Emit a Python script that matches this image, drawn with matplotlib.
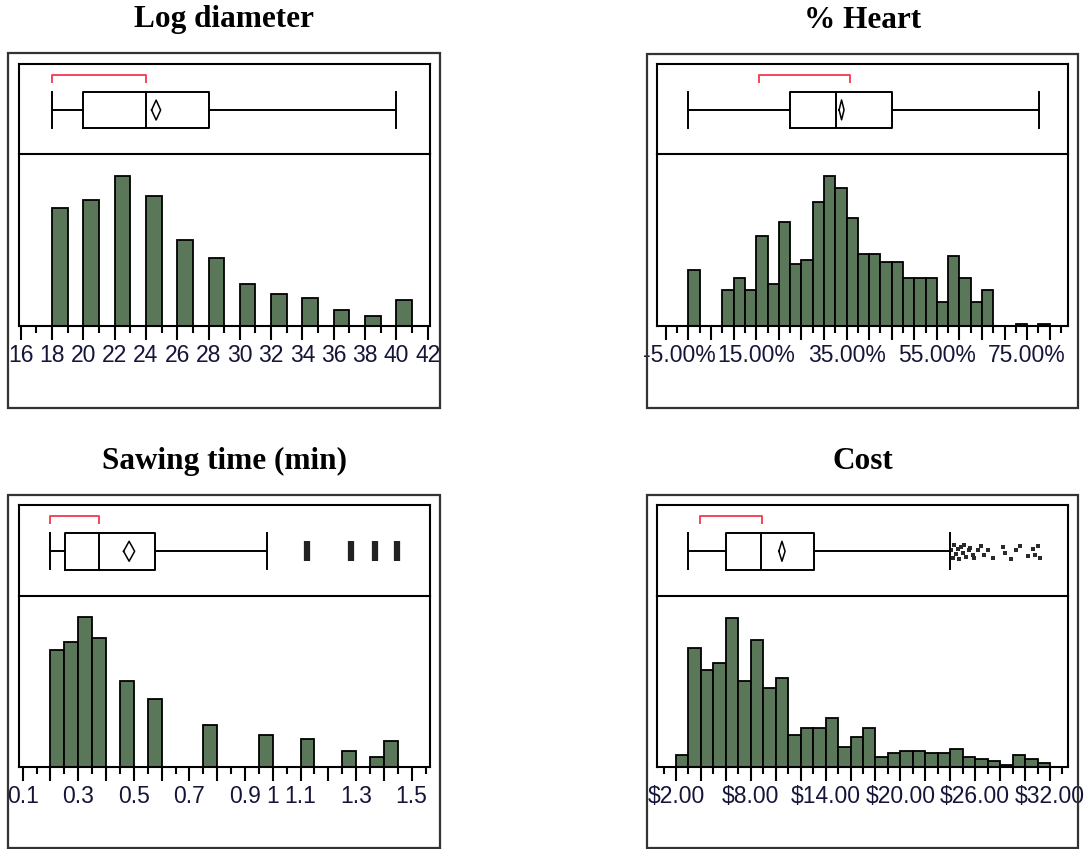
'''Module Imports'''
import matplotlib.pyplot as plt
from matplotlib.patches import Rectangle
from matplotlib.transforms import ScaledTranslation

'''Data read off the reference (bar heights in relative units)'''
# Log diameter
diam_left = [18, 20, 22, 24, 26, 28, 30, 32, 34, 36, 38, 40]
diam_height = [35.3, 37.7, 45.0, 39.0, 25.8, 20.3, 12.5, 9.5, 8.3, 4.7, 2.9, 7.7]
diam_box = [18, 20, 24, 28, 40]  # whisker lo, q1, median, q3, whisker hi
diam_mean = [24.65, 0.29]  # mean, half width of diamond
diam_short = [18, 24]  # shortest half bracket
diam_out = []
diam_major = list(range(16, 43, 2))
diam_minor = list(range(17, 42, 2))
diam_labels = [str(t) for t in diam_major]

# % Heart
heart_left = [0, 7.5, 10, 12.5, 15, 17.5, 20, 22.5, 25, 27.5, 30, 32.5, 35, 37.5,
              40, 42.5, 45, 47.5, 50, 52.5, 55, 57.5, 60, 62.5, 65, 72.5, 77.5]
heart_height = [16.8, 10.8, 14.4, 10.8, 27.0, 12.6, 31.2, 18.5, 19.8, 37.2, 45.0, 41.4,
                32.3, 21.5, 21.5, 19.1, 19.1, 14.4, 14.4, 14.4, 7.2, 21.0, 14.4, 7.2,
                10.8, 0.5, 0.5]
heart_box = [0, 22.5, 32.6, 45, 77.7]
heart_mean = [33.9, 0.55]
heart_short = [15.7, 35.7]
heart_out = []
heart_major = [-5, 0, 5, 10, 15, 20, 25, 30, 35, 40, 45, 50, 55, 60, 65, 70, 75, 80]
heart_minor = [-2.5, 2.5, 7.5, 12.5, 17.5, 22.5, 27.5, 32.5, 37.5, 42.5, 47.5, 52.5,
               57.5, 62.5, 67.5, 72.5, 77.5, 82.5]
heart_labels = ['%.2f%%' % t if t in (-5, 15, 35, 55, 75) else '' for t in heart_major]

# Sawing time (min)
saw_left = [0.2, 0.25, 0.3, 0.35, 0.45, 0.55, 0.75, 0.95, 1.1, 1.25, 1.35, 1.4]
saw_height = [35.2, 37.6, 45.0, 38.8, 25.7, 20.3, 12.5, 9.4, 8.2, 4.6, 2.8, 7.6]
saw_box = [0.2, 0.252, 0.376, 0.576, 0.98]
saw_mean = [0.483, 0.02]
saw_short = [0.2, 0.376]
saw_out = [1.124, 1.28, 1.368, 1.446]
saw_major = [0.1, 0.2, 0.3, 0.4, 0.5, 0.6, 0.7, 0.8, 0.9, 1.0, 1.1, 1.2, 1.3, 1.4, 1.5]
saw_minor = [0.15, 0.25, 0.35, 0.45, 0.55, 0.65, 0.75, 0.85, 0.95, 1.05, 1.15, 1.25,
             1.35, 1.45, 1.55]
saw_text = {0.1: '0.1', 0.3: '0.3', 0.5: '0.5', 0.7: '0.7', 0.9: '0.9', 1.0: '1',
            1.1: '1.1', 1.3: '1.3', 1.5: '1.5'}
saw_labels = [saw_text.get(round(t, 2), '') for t in saw_major]

# Cost
cost_left = list(range(2, 32))
cost_height = [3.4, 35.8, 29.2, 31.1, 44.9, 25.7, 38.2, 23.8, 26.7, 9.4, 11.8, 11.8,
               14.8, 5.8, 8.8, 11.8, 2.8, 4.0, 4.6, 4.6, 4.0, 4.0, 5.2, 2.8, 2.2, 1.6,
               0.4, 3.4, 2.2, 1.0]
cost_box = [3.0, 6.0, 8.8, 13.1, 24.0]
cost_mean = [10.5, 0.25]
cost_short = [3.9, 8.9]
cost_out = [24.1, 24.2, 24.3, 24.5, 24.6, 24.7, 24.9, 25.0, 25.1, 25.3, 25.5, 25.6,
            25.8, 25.9, 26.2, 26.5, 26.7, 27.0, 27.4, 28.2, 28.4, 28.9, 29.3, 29.6,
            30.2, 30.6, 30.8, 31.0, 31.2]
cost_out_y = [0.50, 0.42, 0.56, 0.46, 0.52, 0.40, 0.54, 0.47, 0.56, 0.43, 0.50, 0.53,
              0.45, 0.42, 0.50, 0.55, 0.45, 0.50, 0.42, 0.54, 0.47, 0.40, 0.50, 0.55,
              0.44, 0.52, 0.45, 0.55, 0.42]
cost_major = list(range(2, 33, 2))
cost_minor = list(range(1, 34, 2))
cost_labels = ['$%.2f' % t if t in (2, 8, 14, 20, 26, 32) else '' for t in cost_major]

'''Styling'''
W, H = 1088, 849
bar_color = '#5b775a'
red = '#f5455a'
tick_color = '#15153a'

fig = plt.figure(figsize=(W / 100, H / 100), dpi=100)


def rect(l, t, r, b):  # pixel box -> figure fraction [left, bottom, width, height]
    return [l / W, 1 - b / H, (r - l) / W, (b - t) / H]


def panel(title, outer, inner, divider, xlim, left, height, width, box, mean, short,
          major, minor, labels, out, out_style):
    l, t, r, b = inner
    # outer frame
    fig.add_artist(Rectangle((outer[0] / W, 1 - outer[3] / H),
                             (outer[2] - outer[0]) / W, (outer[3] - outer[1]) / H,
                             transform=fig.transFigure, fill=False,
                             edgecolor='#333333', linewidth=1.6))
    fig.text((outer[0] + outer[2]) / 2 / W, 1 - (outer[1] - 26) / H, title,
             ha='center', va='baseline', fontsize=22.5, fontweight='bold',
             family='Liberation Serif')

    # histogram
    ah = fig.add_axes(rect(l, divider, r, b))
    ah.bar(left, height, width=width, align='edge', color=bar_color,
           edgecolor='black', linewidth=1.3)
    ah.set_xlim(xlim)
    ah.set_ylim(0, 51.5)
    ah.set_yticks([])
    ah.set_xticks(major, labels=labels)
    ah.set_xticks(minor, minor=True)
    ah.tick_params(axis='x', which='major', length=10, width=1.5, pad=3,
                   labelsize=16.5, labelcolor=tick_color)
    ah.tick_params(axis='x', which='minor', length=5, width=1.5)
    for lab in ah.get_xticklabels():
        lab.set_family('Liberation Sans')
    for s in ah.spines.values():
        s.set_linewidth(1.5)
    ah.spines['top'].set_visible(False)

    # box plot
    ab = fig.add_axes(rect(l, t, r, divider))
    stats = [{'whislo': box[0], 'q1': box[1], 'med': box[2], 'q3': box[3],
              'whishi': box[4], 'fliers': []}]
    lp = {'color': 'black', 'linewidth': 1.4}
    ab.bxp(stats, positions=[0.49], widths=0.405, capwidths=0.4,
           orientation='horizontal', showfliers=False, manage_ticks=False,
           boxprops=lp, whiskerprops=lp, capprops=lp, medianprops=lp)
    m, ci = mean
    ab.plot([m - ci, m, m + ci, m, m - ci], [0.49, 0.6, 0.49, 0.38, 0.49],
            color='black', linewidth=1.1)
    ab.plot([short[0], short[0], short[1], short[1]], [0.8, 0.878, 0.878, 0.8],
            color=red, linewidth=1.4)
    if out_style == 'bar':
        ab.plot(out, [0.49] * len(out), linestyle='none', marker='|',
                markersize=15, markeredgewidth=4.5, color='#222222')
    elif out_style == 'dots':
        ab.scatter(out, cost_out_y, marker='s', s=10, color='#2a2a2a', linewidths=0)
    ab.set_xlim(xlim)
    ab.set_ylim(0, 1)
    ab.set_xticks([])
    ab.set_yticks([])
    for s in ab.spines.values():
        s.set_linewidth(1.5)
    return ah


panel('Log diameter', (8, 53, 440, 408), (18.7, 64, 430, 326), 154.3,
      (15.87, 42.15), diam_left, diam_height, 1, diam_box, diam_mean, diam_short,
      diam_major, diam_minor, diam_labels, diam_out, None)

ah = panel('% Heart', (647, 54, 1078, 408), (657.3, 64, 1068.3, 326), 154,
           (-6.9, 84.1), heart_left, heart_height, 2.5, heart_box, heart_mean,
           heart_short, heart_major, heart_minor, heart_labels, heart_out, None)
first = ah.get_xticklabels()[0]  # JMP pushes the first label inside
first.set_transform(first.get_transform() + ScaledTranslation(0.13, 0, fig.dpi_scale_trans))

panel('Sawing time (min)', (8, 495, 440, 848), (18.7, 505, 430, 766.7), 595.7,
      (0.0856, 1.566), saw_left, saw_height, 0.05, saw_box, saw_mean, saw_short,
      saw_major, saw_minor, saw_labels, saw_out, 'bar')

panel('Cost', (647, 495, 1078, 848), (657.3, 505, 1068.3, 766.7), 595.7,
      (0.5, 33.47), cost_left, cost_height, 1, cost_box, cost_mean, cost_short,
      cost_major, cost_minor, cost_labels, cost_out, 'dots')

plt.savefig('out.png', dpi=100)
